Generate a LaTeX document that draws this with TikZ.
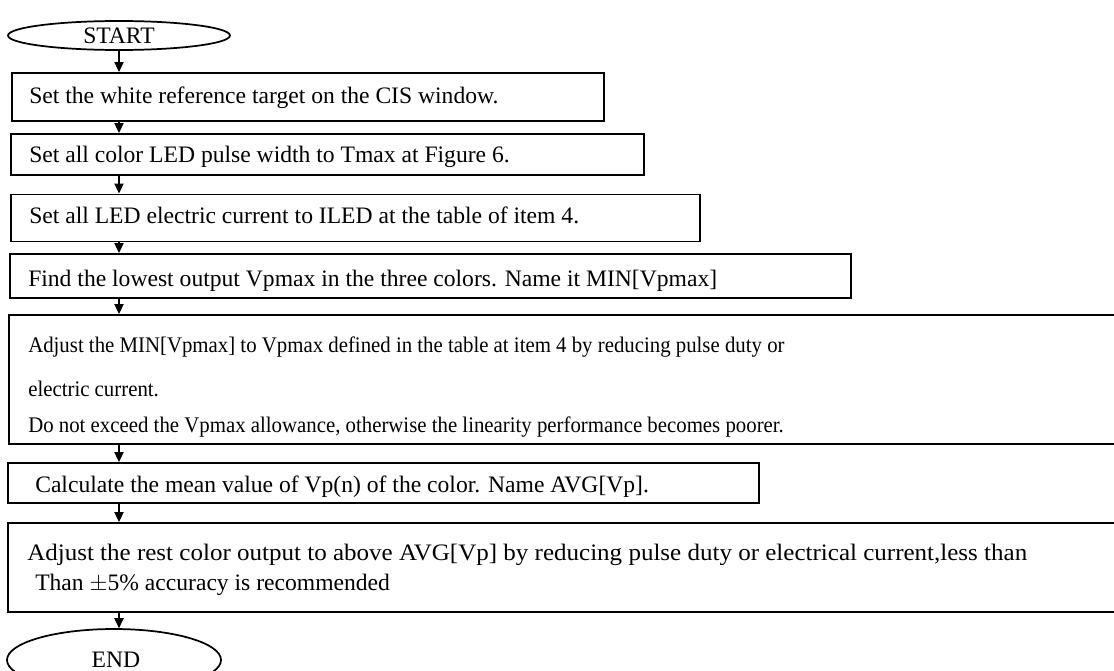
\documentclass[tikz,border=0pt]{standalone}
\usepackage{fontspec}
\usepackage{graphicx}
\setmainfont{Liberation Serif}
\usetikzlibrary{shapes.geometric,arrows.meta}
\begin{document}
\begin{tikzpicture}[x=0.75pt,y=-0.75pt,
  boxstyle/.style={draw,line width=1.3pt,inner sep=0pt,anchor=north west},
  termstyle/.style={draw,ellipse,line width=1.3pt,inner sep=0pt},
  txt/.style={anchor=base west,inner sep=0pt,font=\fontsize{17.7pt}{21pt}\selectfont},
  midtxt/.style={txt,font=\fontsize{16.7pt}{20pt}\selectfont},
  arr/.style={line width=0.8pt,-{Triangle[length=7.5pt,width=7pt]}}]
\clip (0,0) rectangle (1114,671);
% terminals
\node[termstyle,minimum width=222*0.75pt,minimum height=29*0.75pt] (start) at (119,35.5) {};
\node[txt,anchor=base] (tstart) at (119,43) {START};
\node[termstyle,minimum width=214*0.75pt,minimum height=62*0.75pt] (end) at (114,660) {};
\node[txt,anchor=base] (tend) at (116,667) {END};
% boxes
\node[boxstyle,minimum width=592*0.75pt,minimum height=48*0.75pt] (b1) at (11,72) {};
\node[txt] (t1) at (29,103) {Set the white reference target on the CIS window.};
\node[boxstyle,minimum width=633*0.75pt,minimum height=41*0.75pt] (b2) at (10,133) {};
\node[txt] (t2) at (29,162) {Set all color LED pulse width to Tmax at Figure 6.};
\node[boxstyle,minimum width=689*0.75pt,minimum height=47*0.75pt] (b3) at (10,193.5) {};
\node[txt] (t3) at (29,223) {Set all LED electric current to ILED at the table of item 4.};
\node[boxstyle,minimum width=841*0.75pt,minimum height=44*0.75pt] (b4) at (9,253) {};
\node[txt] (t4) at (28,286) {Find the lowest output Vpmax in the three colors. Name it MIN[Vpmax]};
\node[boxstyle,minimum width=1120*0.75pt,minimum height=129*0.75pt] (b5) at (8,314) {};
\node[midtxt] (t5a) at (28,352) {\scalebox{0.935}[1]{Adjust the MIN[Vpmax] to Vpmax defined in the table at item 4 by reducing pulse duty or}};
\node[midtxt] (t5b) at (28,396) {\scalebox{0.935}[1]{electric current.}};
\node[midtxt] (t5c) at (28,432) {\scalebox{0.935}[1]{Do not exceed the Vpmax allowance, otherwise the linearity performance becomes poorer.}};
\node[boxstyle,minimum width=751*0.75pt,minimum height=40*0.75pt] (b6) at (7,462) {};
\node[txt] (t6) at (35,492) {Calculate the mean value of Vp(n) of the color. Name AVG[Vp].};
\node[boxstyle,minimum width=1120*0.75pt,minimum height=89*0.75pt] (b7) at (7,522) {};
\node[txt] (t7a) at (27,560) {\scalebox{1.06}[1]{Adjust the rest color output to above AVG[Vp] by reducing pulse duty or electrical current,less than}};
\node[txt] (t7b) at (35,590) {Than $\pm$5\% accuracy is recommended};
% connectors
\draw[arr] (start.south) -- (b1.north -| start.south);
\draw[arr] (b1.south -| start.south) -- (b2.north -| start.south);
\draw[arr] (b2.south -| start.south) -- (b3.north -| start.south);
\draw[arr] (b3.south -| start.south) -- (b4.north -| start.south);
\draw[arr] (b4.south -| start.south) -- (b5.north -| start.south);
\draw[arr] (b5.south -| start.south) -- (b6.north -| start.south);
\draw[arr] (b6.south -| start.south) -- (b7.north -| start.south);
\draw[arr] (b7.south -| start.south) -- (end.north -| start.south);
\end{tikzpicture}
\end{document}
